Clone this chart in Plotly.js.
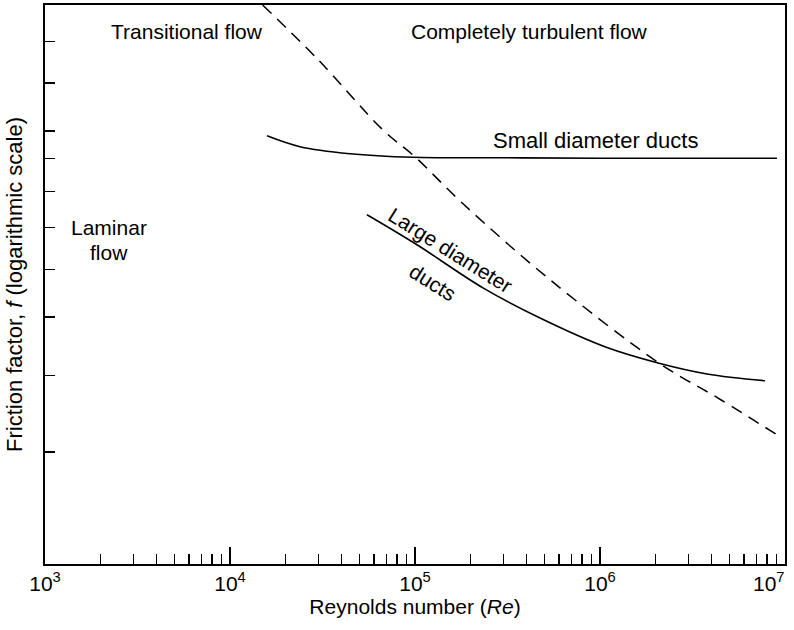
<!DOCTYPE html>
<html>
<head>
<meta charset="utf-8">
<script src="https://cdn.plot.ly/plotly-3.0.1.min.js"></script>
<style>html,body{margin:0;padding:0;background:#fff;}</style>
</head>
<body>
<div id="chart" style="width:794px;height:630px;"></div>
<script>
// ---- data ----
const transitionRe = [15000, 30000, 67000, 100000, 180000, 540000, 2100000, 4500000, 9400000];
const transitionF  = [0.0943, 0.0716, 0.0504, 0.0440, 0.0349, 0.0237, 0.0156, 0.0130, 0.0108];

const smallRe = [15850, 23900, 44500, 97500, 288000, 1000000, 9050000];
const smallF  = [0.0489, 0.0463, 0.0447, 0.0439, 0.0438, 0.0437, 0.0437];

const largeRe = [55000, 102500, 233000, 474000, 1091000, 2110000, 3790000, 7800000];
const largeF  = [0.0329, 0.0283, 0.0228, 0.0196, 0.0169, 0.0156, 0.0148, 0.0143];

const xTickVals = [1e3, 1e4, 1e5, 1e6, 1e7];
const xTickText = ['10<sup>3</sup>', '10<sup>4</sup>', '10<sup>5</sup>', '10<sup>6</sup>', '10<sup>7</sup>'];
const yTickVals = [0.0785, 0.0637, 0.0501, 0.0436, 0.0370, 0.0309, 0.0250, 0.0197, 0.0147, 0.0100];
const yRangeF = [0.0057, 0.0943];

const FONT = 'Liberation Sans, Arial, Helvetica, sans-serif';

const traces = [
  {x: transitionRe, y: transitionF, mode: 'lines', line: {color: '#000', width: 1.5, dash: '12px,8px', shape: 'spline'}, hoverinfo: 'skip'},
  {x: smallRe, y: smallF, mode: 'lines', line: {color: '#000', width: 1.6, shape: 'spline'}, hoverinfo: 'skip'},
  {x: largeRe, y: largeF, mode: 'lines', line: {color: '#000', width: 1.6, shape: 'spline'}, hoverinfo: 'skip'}
];

const ann = (text, x, y, extra) => Object.assign({
  text: text, xref: 'paper', yref: 'paper', x: x, y: y, showarrow: false,
  font: {family: FONT, size: 21, color: '#000'}, xanchor: 'center', yanchor: 'middle'
}, extra || {});

// paper coords: plot area x 45..785, y 5..564
const px = v => (v - 45) / 740;
const py = v => (564 - v) / 559;

// the last x tick label sits flush with the right edge of the frame
const lastIdx = xTickVals.length - 1;
const shownTickText = xTickText.map((t, i) => i === lastIdx ? '' : t);

const layout = {
  width: 794, height: 630,
  margin: {l: 45, r: 9, t: 5, b: 66},
  paper_bgcolor: '#fff', plot_bgcolor: '#fff',
  showlegend: false,
  font: {family: FONT, size: 21, color: '#000'},
  xaxis: {
    type: 'log', range: [3, 7],
    tickmode: 'array', tickvals: xTickVals, ticktext: shownTickText,
    ticks: 'inside', ticklen: 17, tickwidth: 1.5, tickcolor: '#000',
    tickfont: {family: FONT, size: 21, color: '#000'},
    minor: {ticks: 'inside', ticklen: 10, tickwidth: 1.3, tickcolor: '#000', dtick: 'D1', showgrid: false},
    showline: true, linewidth: 2, linecolor: '#000', mirror: true,
    showgrid: false, zeroline: false,
    title: {text: 'Reynolds number (<i>Re</i>)', font: {family: FONT, size: 21, color: '#000'}, standoff: 5}
  },
  yaxis: {
    type: 'log', range: [Math.log10(yRangeF[0]), Math.log10(yRangeF[1])],
    tickmode: 'array', tickvals: yTickVals, showticklabels: false,
    ticks: 'inside', ticklen: 10, tickwidth: 1.5, tickcolor: '#000',
    showline: true, linewidth: 2, linecolor: '#000', mirror: true,
    showgrid: false, zeroline: false,
    title: {text: 'Friction factor, <i>f</i> (logarithmic scale)', font: {family: FONT, size: 22, color: '#000'}, standoff: 14}
  },
  annotations: [
    ann(xTickText[lastIdx], px(787), py(582), {xanchor: 'right'}),
    ann('Transitional flow', px(187), py(32)),
    ann('Completely turbulent flow', px(529), py(32)),
    ann('Small diameter ducts', px(595), py(140), {font: {family: FONT, size: 22, color: '#000'}}),
    ann('Laminar', px(109), py(227)),
    ann('flow', px(109), py(252)),
    ann('Large diameter', px(451), py(250), {textangle: 32}),
    ann('ducts', px(433), py(282), {textangle: 32})
  ]
};

Plotly.newPlot('chart', traces, layout, {displayModeBar: false, staticPlot: true});
</script>
</body>
</html>
